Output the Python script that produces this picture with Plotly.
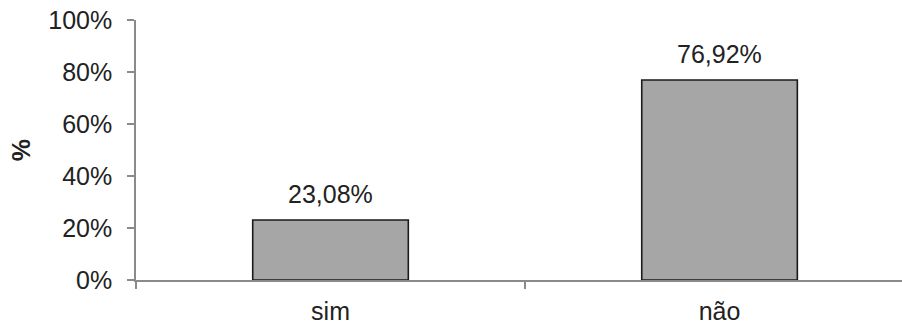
import plotly.graph_objects as go

# Survey answers and their shares (%)
categories = ["sim", "não"]
shares = [23.08, 76.92]
y_ticks = [0, 20, 40, 60, 80, 100]
y_tick_labels = ["0%", "20%", "40%", "60%", "80%", "100%"]


def pt_br(v):
    return f"{v:.2f}".replace(".", ",") + "%"


font_family = "Liberation Sans, Arial, sans-serif"
axis_grey = "#8a8a8a"
text_color = "#222222"

fig = go.Figure(
    go.Bar(
        x=categories,
        y=shares,
        marker=dict(color="#a6a6a6", line=dict(color="#1a1a1a", width=1.6)),
        width=0.4,
        hoverinfo="skip",
    )
)

# value labels above each bar
for cat, val in zip(categories, shares):
    fig.add_annotation(
        x=cat, y=val, text=pt_br(val), showarrow=False,
        yanchor="bottom", yshift=10,
        font=dict(family=font_family, size=25, color=text_color),
    )

fig.update_layout(
    width=902, height=325, autosize=False,
    margin=dict(l=136, r=0, t=20, b=45),
    paper_bgcolor="white", plot_bgcolor="white",
    showlegend=False,
    font=dict(family=font_family, size=25, color=text_color),
)

fig.update_xaxes(
    type="category",
    range=[-0.5, 1.469],
    showline=True, linecolor=axis_grey, linewidth=1.5,
    ticks="outside", tickson="boundaries", ticklen=7, tickcolor=axis_grey, tickwidth=1.5,
    ticklabelstandoff=8,
    showgrid=False, zeroline=False,
    tickfont=dict(family=font_family, size=25, color=text_color),
)

fig.update_yaxes(
    range=[0, 100],
    tickvals=y_ticks, ticktext=y_tick_labels,
    showline=True, linecolor=axis_grey, linewidth=1.5,
    ticks="outside", ticklen=7, tickcolor=axis_grey, tickwidth=1.5,
    ticklabelstandoff=10,
    showgrid=False, zeroline=False,
    tickfont=dict(family=font_family, size=25, color=text_color),
    title=dict(text="<b>%</b>", font=dict(family=font_family, size=25, color=text_color), standoff=11),
)

fig.write_html("out.html")
